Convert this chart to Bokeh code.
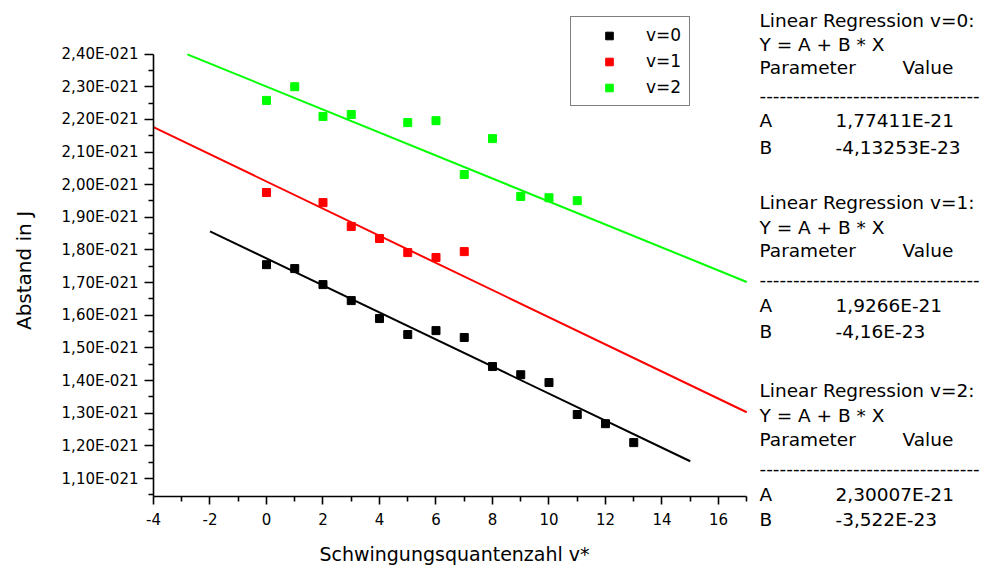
import math
from bokeh.plotting import figure
from bokeh.layouts import row
from bokeh.models import Range1d, FixedTicker, Label, Legend, LegendItem
from bokeh.embed import file_html
from bokeh.resources import INLINE

# ---------------- data (Abstand in units of 1E-21 J) ----------------
v0_x = [0, 1, 2, 3, 4, 5, 6, 7, 8, 9, 10, 11, 12, 13]
v0_y = [1.755, 1.743, 1.694, 1.645, 1.590, 1.541, 1.553, 1.532, 1.443, 1.418, 1.394, 1.296, 1.268, 1.210]
v1_x = [0, 2, 3, 4, 5, 6, 7]
v1_y = [1.976, 1.945, 1.872, 1.835, 1.792, 1.777, 1.795]
v2_x = [0, 1, 2, 3, 5, 6, 7, 8, 9, 10, 11]
v2_y = [2.258, 2.300, 2.209, 2.215, 2.190, 2.196, 2.031, 2.141, 1.964, 1.960, 1.951]

# regression lines (end points)
fit0_x = [-2, 15]
fit0_y = [1.857, 1.153]
fit1_x = [-4, 17]
fit1_y = [2.176, 1.303]
fit2_x = [-2.8, 17]
fit2_y = [2.399, 1.702]

series_names = ["v=0", "v=1", "v=2"]
series_colors = ["#000000", "#ff0000", "#00ff00"]

x_ticks = [-4, -2, 0, 2, 4, 6, 8, 10, 12, 14, 16]
x_tick_labels = ["-4", "-2", "0", "2", "4", "6", "8", "10", "12", "14", "16"]
x_minor = [-3, -1, 1, 3, 5, 7, 9, 11, 13, 15, 17]
y_ticks = [1.1, 1.2, 1.3, 1.4, 1.5, 1.6, 1.7, 1.8, 1.9, 2.0, 2.1, 2.2, 2.3, 2.4]
y_tick_labels = ["1,10E-021", "1,20E-021", "1,30E-021", "1,40E-021", "1,50E-021",
                 "1,60E-021", "1,70E-021", "1,80E-021", "1,90E-021", "2,00E-021",
                 "2,10E-021", "2,20E-021", "2,30E-021", "2,40E-021"]
y_minor = [1.05, 1.15, 1.25, 1.35, 1.45, 1.55, 1.65, 1.75, 1.85, 1.95, 2.05,
           2.15, 2.25, 2.35]

x_title = "Schwingungsquantenzahl v*"
y_title = "Abstand in J"
reg_titles = ["Linear Regression v=0:", "Linear Regression v=1:", "Linear Regression v=2:"]
reg_A = ["1,77411E-21", "1,9266E-21", "2,30007E-21"]
reg_B = ["-4,13253E-23", "-4,16E-23", "-3,522E-23"]

FONT = "DejaVu Sans"
TITLE_W = 40          # width of the strip holding the y-axis title


def blank_panel(w, h):
    f = figure(frame_width=w, frame_height=h,
               min_border_left=0, min_border_right=0,
               min_border_top=0, min_border_bottom=0,
               x_range=Range1d(0, 1), y_range=Range1d(0, 1),
               x_axis_location=None, y_axis_location=None,
               output_backend="svg", toolbar_location=None)
    f.grid.visible = False
    f.outline_line_color = None
    f.background_fill_color = "white"
    f.border_fill_color = "white"
    return f


# ---------------- y title strip ----------------
ytf = blank_panel(TITLE_W, 570)
ytf.add_layout(Label(x=23, y=570 - 270, x_units="screen", y_units="screen",
                     text=y_title, angle=math.pi / 2, text_font=FONT,
                     text_font_size="20px", text_align="center",
                     text_baseline="middle", text_color="black"))

# ---------------- main figure ----------------
# the frame reaches up to the top so the legend is not clipped; the axes are
# limited to the data part with `bounds`
p = figure(frame_width=602, frame_height=496,
           min_border_left=153 - TITLE_W, min_border_right=0,
           min_border_top=0, min_border_bottom=74,
           x_range=Range1d(-4, 17.31), y_range=Range1d(1.045, 2.564),
           output_backend="svg", toolbar_location=None)
p.grid.visible = False
p.outline_line_color = None
p.background_fill_color = "white"
p.border_fill_color = "white"

for ax in (p.xaxis[0], p.yaxis[0]):
    ax.axis_line_width = 1.6
    ax.major_tick_line_width = 1.6
    ax.minor_tick_line_width = 1.6
    ax.major_tick_in = 0
    ax.minor_tick_in = 0
    ax.major_label_text_font = FONT
    ax.major_label_text_font_size = "15px"
    ax.major_label_text_color = "black"
    ax.axis_label_text_font = FONT
    ax.axis_label_text_font_size = "19px"
    ax.axis_label_text_font_style = "normal"
    ax.axis_label_text_color = "black"

xa = p.xaxis[0]
xa.bounds = (-4, 17)
xa.ticker = FixedTicker(ticks=x_ticks, minor_ticks=x_minor)
xa.major_label_overrides = dict(zip(x_ticks, x_tick_labels))
xa.major_tick_out = 8
xa.minor_tick_out = 5
xa.major_label_standoff = 8
xa.axis_label = x_title
xa.axis_label_standoff = 15

ya = p.yaxis[0]
ya.bounds = (1.045, 2.40)
ya.ticker = FixedTicker(ticks=y_ticks, minor_ticks=y_minor)
ya.major_label_overrides = dict(zip(y_ticks, y_tick_labels))
ya.major_tick_out = 9
ya.minor_tick_out = 5
ya.major_label_standoff = 6

# ---------------- glyphs ----------------
pts = [(v0_x, v0_y), (v1_x, v1_y), (v2_x, v2_y)]
fits = [(fit0_x, fit0_y), (fit1_x, fit1_y), (fit2_x, fit2_y)]
items = []
for (fx, fy), col in zip(fits, series_colors):
    p.line(fx, fy, line_color=col, line_width=2)
for (sx, sy), name, col in zip(pts, series_names, series_colors):
    r = p.scatter(sx, sy, marker="square", size=8, fill_color=col, line_color=col,
                  line_width=1)
    items.append(LegendItem(label=name, renderers=[r]))

legend = Legend(items=items, location=(417, 390), margin=0,
                border_line_color="black", border_line_width=1.5,
                background_fill_color="white", background_fill_alpha=1.0,
                label_text_font=FONT, label_text_font_size="17px",
                label_text_color="black",
                glyph_width=60, glyph_height=19, label_height=19,
                spacing=6, padding=8, label_standoff=7)
p.add_layout(legend)

# ---------------- regression text panel (own figure) ----------------
t = blank_panel(229, 570)

PANEL_LEFT_IMG = 755
PANEL_BOTTOM_IMG = 570
block_rows = [[20, 44, 67, 95, 120, 147],
              [202, 227, 250, 279, 305, 331],
              [390, 415, 439, 468, 494, 519]]
col_left = 759
col_val = 835
col_value_hdr = 902


def add_text(txt, x_img, y_img, size="18.5px"):
    t.add_layout(Label(x=x_img - PANEL_LEFT_IMG, y=PANEL_BOTTOM_IMG - y_img,
                       x_units="screen", y_units="screen", text=txt,
                       text_font=FONT, text_font_size=size,
                       text_baseline="middle", text_align="left",
                       text_color="black"))


for i in range(3):
    rows = block_rows[i]
    add_text(reg_titles[i], col_left, rows[0])
    add_text("Y = A + B * X", col_left, rows[1])
    add_text("Parameter", col_left, rows[2])
    add_text("Value", col_value_hdr, rows[2])
    add_text("-" * 33, col_left, rows[3])
    add_text("A", col_left, rows[4])
    add_text(reg_A[i], col_val, rows[4])
    add_text("B", col_left, rows[5])
    add_text(reg_B[i], col_val, rows[5])

layout = row(ytf, p, t, spacing=0)
open("out.html", "w").write(file_html(layout, INLINE))
